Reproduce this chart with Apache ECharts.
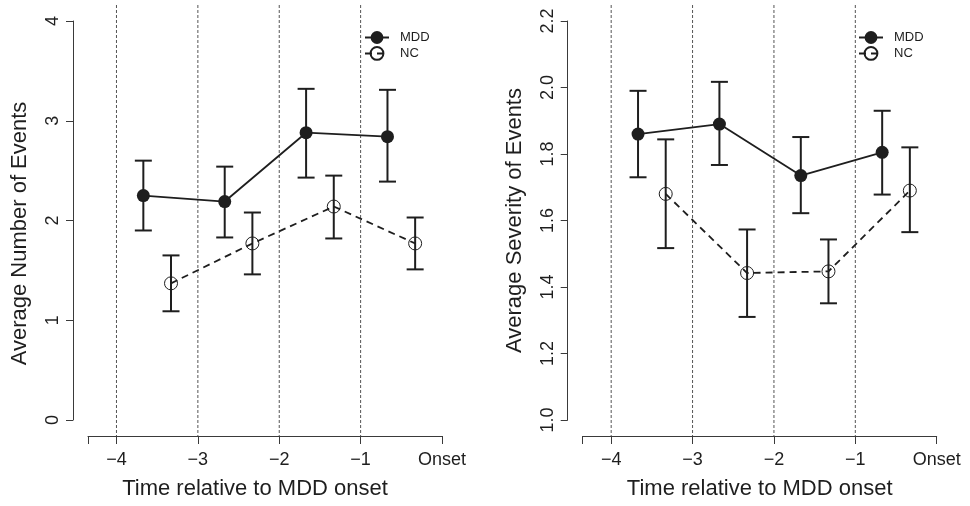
<!DOCTYPE html>
<html><head><meta charset="utf-8">
<script src="https://cdn.jsdelivr.net/npm/echarts@6/dist/echarts.min.js"></script>
<style>html,body{margin:0;padding:0;background:#fff}#c{width:970px;height:506px}</style>
</head><body><div id="c"></div>
<script>
// ---- data ----
const xMDD = [-3.67, -2.67, -1.67, -0.67];
const xNC = [-3.33, -2.33, -1.33, -0.33];
const refLines = [-4, -3, -2, -1];
const xTickVals = [-4.35, -4, -3, -2, -1, 0];
const xLabelVals = [-4, -3, -2, -1, 0];
const xTickLabels = ['−4', '−3', '−2', '−1', 'Onset'];
const seriesNames = ['MDD', 'NC'];

// Left panel: Average Number of Events
const numMDD = [2.25, 2.19, 2.88, 2.84];
const numMDDlo = [1.90, 1.83, 2.43, 2.39];
const numMDDhi = [2.60, 2.54, 3.32, 3.31];
const numNC = [1.37, 1.77, 2.14, 1.77];
const numNClo = [1.09, 1.46, 1.82, 1.51];
const numNChi = [1.65, 2.08, 2.45, 2.03];
const numYTicks = ['0', '1', '2', '3', '4'];

// Right panel: Average Severity of Events
const sevMDD = [1.86, 1.89, 1.735, 1.805];
const sevMDDlo = [1.73, 1.767, 1.622, 1.678];
const sevMDDhi = [1.99, 2.017, 1.851, 1.93];
const sevNC = [1.68, 1.442, 1.447, 1.69];
const sevNClo = [1.517, 1.31, 1.351, 1.565];
const sevNChi = [1.844, 1.573, 1.543, 1.82];
const sevYTicks = ['1.0', '1.2', '1.4', '1.6', '1.8', '2.0', '2.2'];

const xTitle = 'Time relative to MDD onset';
const yTitleL = 'Average Number of Events';
const yTitleR = 'Average Severity of Events';

// ---- styling ----
const FONT = '"Liberation Sans", Arial, Helvetica, sans-serif';
const INK = '#1e1e1e';
const AX = '#3a3a3a';

function pts(xs, ys) { return xs.map((x, i) => [x, ys[i]]); }
function bars(xs, lo, hi) { return xs.map((x, i) => [x, lo[i], hi[i]]); }

function errRender(params, api) {
  const x = api.value(0);
  const lo = api.coord([x, api.value(1)]);
  const hi = api.coord([x, api.value(2)]);
  const w = 8.5;
  const style = { stroke: INK, lineWidth: 2 };
  return { type: 'group', children: [
    { type: 'line', shape: { x1: lo[0], y1: lo[1], x2: hi[0], y2: hi[1] }, style },
    { type: 'line', shape: { x1: lo[0] - w, y1: lo[1], x2: lo[0] + w, y2: lo[1] }, style },
    { type: 'line', shape: { x1: hi[0] - w, y1: hi[1], x2: hi[0] + w, y2: hi[1] }, style }
  ]};
}
function vRender(params, api) {
  const cs = params.coordSys;
  const p = api.coord([api.value(0), api.value(1)]);
  return { type: 'line', shape: { x1: p[0], y1: cs.y, x2: p[0], y2: cs.y + cs.height },
    style: { stroke: '#555', lineWidth: 1, lineDash: [3, 2] } };
}

const option = { animation: false, backgroundColor: '#fff', grid: [], xAxis: [], yAxis: [], series: [], legend: [] };

function addPanel(cfg) {
  const g = option.grid.length;
  option.grid.push({ left: cfg.left, top: 21, width: 354, height: 399 });       // data region
  option.grid.push({ left: cfg.left, top: 5, width: 354, height: 431 });        // frame for reference lines
  option.xAxis.push({
    gridIndex: g, type: 'value', min: -4.35, max: 0, position: 'bottom', offset: 16,
    axisLine: { show: true, onZero: false, lineStyle: { color: AX, width: 1 } },
    axisTick: { show: true, length: 8, customValues: xTickVals, lineStyle: { color: AX, width: 1 } },
    axisLabel: { customValues: xLabelVals, margin: 15, fontSize: 18, color: INK, fontFamily: FONT,
      formatter: v => xTickLabels[xLabelVals.findIndex(t => Math.abs(t - v) < 1e-6)] },
    splitLine: { show: false },
    name: xTitle, nameLocation: 'middle', nameGap: 42,
    nameTextStyle: { fontSize: 22, color: INK, fontFamily: FONT, padding: cfg.xNamePad }
  });
  option.xAxis.push({ gridIndex: g + 1, type: 'value', min: -4.35, max: 0, show: false });
  option.yAxis.push({
    gridIndex: g, type: 'value', min: cfg.yMin, max: cfg.yMax, interval: cfg.yInt, offset: 15,
    position: 'left',
    axisLine: { show: true, onZero: false, lineStyle: { color: AX, width: 1 } },
    axisTick: { show: true, length: 7, lineStyle: { color: AX, width: 1 } },
    axisLabel: { rotate: 90, margin: 11, fontSize: 18, color: INK, fontFamily: FONT,
      formatter: v => cfg.yLabels[Math.round((v - cfg.yMin) / cfg.yInt)] },
    splitLine: { show: false },
    name: cfg.yTitle, nameLocation: 'middle', nameGap: 42,
    nameTextStyle: { fontSize: 22, color: INK, fontFamily: FONT, padding: cfg.yNamePad }
  });
  option.yAxis.push({ gridIndex: g + 1, type: 'value', min: 0, max: 1, show: false });

  option.series.push({
    type: 'custom', xAxisIndex: g + 1, yAxisIndex: g + 1, silent: true, z: 1,
    renderItem: vRender, data: refLines.map(v => [v, 0.5])
  });
  option.series.push({
    type: 'custom', xAxisIndex: g, yAxisIndex: g, silent: true, z: 3,
    renderItem: errRender, data: bars(xMDD, cfg.mddLo, cfg.mddHi)
  });
  option.series.push({
    type: 'custom', xAxisIndex: g, yAxisIndex: g, silent: true, z: 3,
    renderItem: errRender, data: bars(xNC, cfg.ncLo, cfg.ncHi)
  });
  option.series.push({
    name: seriesNames[0], type: 'line', xAxisIndex: g, yAxisIndex: g, z: 4,
    data: pts(xMDD, cfg.mdd), symbol: 'circle', symbolSize: 13,
    itemStyle: { color: INK }, lineStyle: { color: INK, width: 1.8 }, emphasis: { disabled: true }
  });
  option.series.push({
    name: seriesNames[1], type: 'line', xAxisIndex: g, yAxisIndex: g, z: 4,
    data: pts(xNC, cfg.nc), symbol: 'circle', symbolSize: 13,
    itemStyle: { color: 'rgba(0,0,0,0)', borderColor: INK, borderWidth: 1 },
    lineStyle: { color: INK, width: 1.8, type: [7, 5] }, emphasis: { disabled: true }
  });
  option.legend.push({
    left: cfg.legendLeft, top: 26, orient: 'vertical', itemWidth: 24, itemHeight: 16, itemGap: 2,
    selectedMode: false, data: seriesNames,
    textStyle: { fontSize: 13, color: INK, fontFamily: FONT, padding: [0, 0, 0, 6] }
  });
}

addPanel({ left: 88, yMin: 0, yMax: 4, yInt: 1, yLabels: numYTicks, yTitle: yTitleL,
  yNamePad: [0, 26, 0, 0], xNamePad: [0, 20, 0, 0], legendLeft: 359,
  mdd: numMDD, mddLo: numMDDlo, mddHi: numMDDhi, nc: numNC, ncLo: numNClo, ncHi: numNChi });
addPanel({ left: 582.7, yMin: 1.0, yMax: 2.2, yInt: 0.2, yLabels: sevYTicks, yTitle: yTitleR,
  yNamePad: [0, 0, 0, 0], xNamePad: [0, 0, 0, 0], legendLeft: 853,
  mdd: sevMDD, mddLo: sevMDDlo, mddHi: sevMDDhi, nc: sevNC, ncLo: sevNClo, ncHi: sevNChi });

const chart = echarts.init(document.getElementById('c'), null, { renderer: 'canvas' });
chart.setOption(option);
</script>
</body></html>
